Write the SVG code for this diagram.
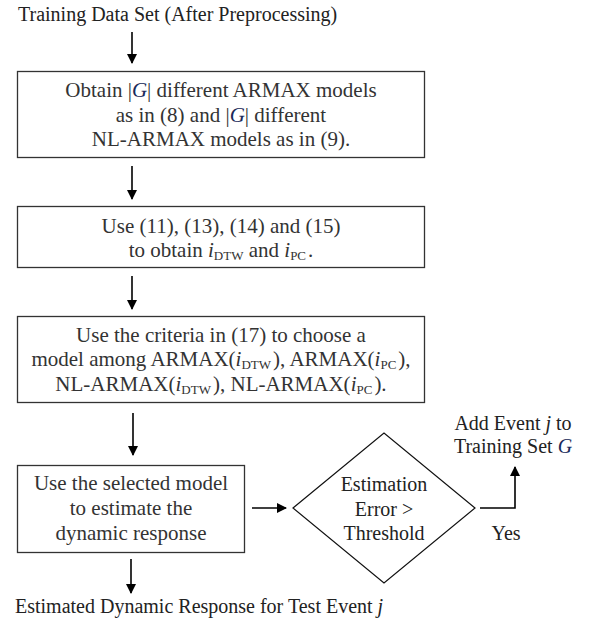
<svg xmlns="http://www.w3.org/2000/svg" width="592" height="625" viewBox="0 0 592 625">
<style>
.t{font-family:"Liberation Serif","Times New Roman",serif;font-size:20px;fill:#222}
.b{font-family:"Liberation Serif","Times New Roman",serif;font-size:21px;fill:#333;text-anchor:middle}
.m{font-style:italic}
.s{font-size:13px}
.box{fill:#fff;stroke:#333;stroke-width:1.3}
.c{stroke:#000;stroke-width:1.6;fill:none}
</style>
<defs>
<marker id="ah" viewBox="0 0 10 10" refX="9" refY="5" markerWidth="10" markerHeight="10" markerUnits="userSpaceOnUse" orient="auto">
<path d="M0,0 L10,5 L0,10 z" fill="#000"/>
</marker>
</defs>
<rect width="592" height="625" fill="#fff"/>
<g id="start"><text class="t" x="18" y="21" font-size="20.4">Training Data Set (After Preprocessing)</text></g>
<g id="box1">
<rect class="box" x="17.5" y="71.5" width="407" height="86"/>
<text class="b" x="221" y="97">Obtain |<tspan class="m" fill="#1a2a5a">G</tspan>| different ARMAX models</text>
<text class="b" x="221" y="122">as in (8) and |<tspan class="m" fill="#1a2a5a">G</tspan>| different</text>
<text class="b" x="221" y="146">NL-ARMAX models as in (9).</text>
</g>
<g id="box2">
<rect class="box" x="17.5" y="206.5" width="407" height="61"/>
<text class="b" x="221" y="233">Use (11), (13), (14) and (15)</text>
<text class="b" x="221" y="257">to obtain <tspan class="m">i</tspan><tspan class="s" dy="3">DTW</tspan><tspan dy="-3"> and </tspan><tspan class="m">i</tspan><tspan class="s" dy="3">PC</tspan><tspan dy="-3" dx="2">.</tspan></text>
</g>
<g id="box3">
<rect class="box" x="17.5" y="316.5" width="407" height="86"/>
<text class="b" x="221" y="342">Use the criteria in (17) to choose a</text>
<text class="b" x="221" y="366">model among ARMAX(<tspan class="m">i</tspan><tspan class="s" dy="3">DTW</tspan><tspan dy="-3" dx="2">), ARMAX(</tspan><tspan class="m">i</tspan><tspan class="s" dy="3">PC</tspan><tspan dy="-3" dx="2">),</tspan></text>
<text class="b" x="221" y="391">NL-ARMAX(<tspan class="m">i</tspan><tspan class="s" dy="3">DTW</tspan><tspan dy="-3" dx="2">), NL-ARMAX(</tspan><tspan class="m">i</tspan><tspan class="s" dy="3">PC</tspan><tspan dy="-3" dx="2">).</tspan></text>
</g>
<g id="box4">
<rect class="box" x="17.5" y="465.5" width="227" height="87"/>
<text class="b" x="131" y="490">Use the selected model</text>
<text class="b" x="131" y="515">to estimate the</text>
<text class="b" x="131" y="540">dynamic response</text>
</g>
<g id="decision">
<path d="M293,508 L384,433 L475,508 L384,583 Z" fill="#fff" stroke="#111" stroke-width="1.2"/>
<text class="t" x="384" y="491" text-anchor="middle">Estimation</text>
<text class="t" x="384" y="516" text-anchor="middle">Error &gt;</text>
<text class="t" x="384" y="540" text-anchor="middle">Threshold</text>
</g>
<g id="add">
<text class="t" x="513" y="430" text-anchor="middle">Add Event <tspan class="m">j</tspan> to</text>
<text class="t" x="513" y="453" text-anchor="middle">Training Set <tspan class="m" fill="#1a2a5a">G</tspan></text>
</g>
<g id="end"><text class="t" x="15" y="613">Estimated Dynamic Response for Test Event <tspan class="m">j</tspan></text></g>
<g id="connectors">
<line class="c" x1="132" y1="32" x2="132" y2="63" marker-end="url(#ah)"/>
<line class="c" x1="132" y1="166" x2="132" y2="199" marker-end="url(#ah)"/>
<line class="c" x1="132" y1="276" x2="132" y2="309" marker-end="url(#ah)"/>
<line class="c" x1="133" y1="413" x2="133" y2="455" marker-end="url(#ah)"/>
<line class="c" x1="131" y1="559" x2="131" y2="593" marker-end="url(#ah)"/>
<line class="c" x1="252" y1="508" x2="286" y2="508" marker-end="url(#ah)"/>
<polyline class="c" points="480,508 515,508 515,467" marker-end="url(#ah)"/>
<text class="t" x="506" y="540" text-anchor="middle">Yes</text>
</g>
</svg>
